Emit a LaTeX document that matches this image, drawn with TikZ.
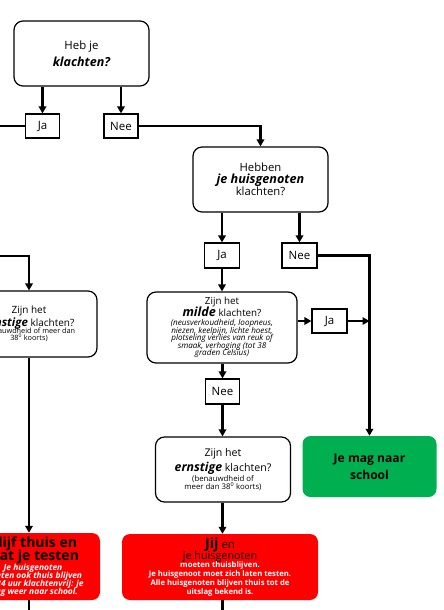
\documentclass[tikz,border=0pt]{standalone}
\usepackage{fontspec}
\setmainfont{Open Sans}
\usetikzlibrary{arrows.meta}
\definecolor{redbox}{RGB}{255,0,0}
\definecolor{greenbox}{RGB}{0,176,80}
\newcommand\fs[2]{\fontsize{#1}{#2}\selectfont}
\newcommand\tightlines{\fontsize{10}{0}\selectfont\lineskiplimit=-100pt\relax}
\tikzset{
  qbox/.style={draw, line width=1.2pt, rounded corners=9pt, inner sep=0pt, align=center,
    minimum width=135pt, minimum height=65pt, font=\tightlines},
  rbox/.style={fill=redbox, rounded corners=8pt, inner sep=0pt, align=center,
    minimum height=66pt, font=\tightlines},
  gbox/.style={fill=greenbox, rounded corners=8pt, inner sep=0pt, align=center,
    minimum width=134pt, minimum height=61pt, font=\tightlines},
  lbl/.style={draw, line width=1.2pt, inner sep=0pt, minimum width=34pt, minimum height=24pt,
    font=\fs{11.5}{13}},
  conn/.style={line width=2.2pt, -{Triangle[width=7.5pt,length=7pt]}},
  wire/.style={line width=2.2pt}
}
\begin{document}
\begin{tikzpicture}[x=1pt,y=-1pt]
\path[use as bounding box, clip] (0,0) rectangle (444,610);

% question boxes
\node[qbox] (q1) at (81.5,53.5)
  {{\fs{11.4}{0}Heb je}\\[17.4pt]{\fs{12.5}{0}\bfseries\itshape klachten?}};
\node[qbox] (q2) at (260.5,179.5)
  {{\fs{11.3}{0}Hebben}\\[12pt]{\fs{12.6}{0}\bfseries\itshape je huisgenoten}\\[12.4pt]{\fs{11.3}{0}klachten?}};
\node[qbox, minimum width=150pt, minimum height=71pt] (q3) at (222,327.5)
  {{\fs{9.8}{0}Zijn het}\\[11.7pt]{\fs{12.6}{0}\bfseries\itshape milde}{\fs{9.8}{0} klachten?}\\[9.3pt]
   {\fs{8.1}{0}\itshape (neusverkoudheid, loopneus,}\\[7.4pt]
   {\fs{8.1}{0}\itshape niezen, keelpijn, lichte hoest,}\\[7.6pt]
   {\fs{8.1}{0}\itshape plotseling verlies van reuk of}\\[7.3pt]
   {\fs{8.1}{0}\itshape smaak, verhoging (tot 38}\\[7.7pt]
   {\fs{8.1}{0}\itshape graden Celsius)}};
\node[qbox] (q4) at (223,469.5)
  {{\fs{10.6}{0}Zijn het}\\[15.4pt]{\fs{12.3}{0}\bfseries\itshape ernstige}{\fs{10.6}{0} klachten?}\\[9.6pt]
   {\fs{7.8}{0}(benauwdheid of}\\[7.7pt]{\fs{7.8}{0}meer dan 38\textsuperscript{0} koorts)}};
\node[qbox, minimum width=136pt, minimum height=66pt] (q5) at (29,324)
  {{\fs{10}{0}Zijn het}\\[12.5pt]{\fs{11.5}{0}\bfseries\itshape ernstige}{\fs{10}{0} klachten?}\\[7.8pt]
   {\fs{7.3}{0}(benauwdheid of meer dan}\\[6.8pt]{\fs{7.3}{0}38\textsuperscript{0} koorts)}};

% outcome boxes
\node[gbox] (green) at (369.5,466.5)
  {{\fs{12.1}{0}\bfseries Je mag naar}\\[16.7pt]{\fs{12.1}{0}\bfseries school}};
\node[rbox, minimum width=196pt] (red2) at (220,567)
  {{\fs{14.3}{0}\bfseries Jij}{\fs{11.4}{0} en}\\[10.5pt]{\fs{10.8}{0}je huisgenoten}\\[8.3pt]
   {\color{white}\fs{7.7}{0}\bfseries moeten thuisblijven.}\\[9pt]
   {\color{white}\fs{7.7}{0}\bfseries Je huisgenoot moet zich laten testen.}\\[9pt]
   {\color{white}\fs{7.7}{0}\bfseries Alle huisgenoten blijven thuis tot de}\\[8.3pt]
   {\color{white}\fs{7.7}{0}\bfseries uitslag bekend is.}};
\node[rbox, minimum width=134pt, minimum height=67pt] (red1) at (33,566.5)
  {{\fs{14}{0}\bfseries Blijf thuis en}\\[13.4pt]{\fs{14}{0}\bfseries laat je testen}\\[10pt]
   {\color{white}\fs{8.4}{0}\bfseries\itshape Je huisgenoten}\\[8.3pt]
   {\color{white}\fs{8.4}{0}\bfseries\itshape moeten ook thuis blijven}\\[7.7pt]
   {\color{white}\fs{8.4}{0}\bfseries\itshape tot 24 uur klachtenvrij: je}\\[8.3pt]
   {\color{white}\fs{8.4}{0}\bfseries\itshape mag weer naar school.}};

% answer labels
\node[lbl] (ja1) at (42.5,126) {Ja};
\node[lbl] (nee1) at (121,126) {Nee};
\node[lbl, minimum width=35pt, minimum height=25pt] (ja2) at (222,255.5) {Ja};
\node[lbl, minimum width=35pt, minimum height=25pt] (nee2) at (299.5,255.5) {Nee};
\node[lbl, minimum width=35pt] (ja3) at (329.5,321) {Ja};
\node[lbl, minimum height=25pt] (nee3) at (222.5,391.5) {Nee};

% free ends
\coordinate (edgeA) at (-5,126);
\coordinate (edgeB) at (-5,256);
\coordinate (bottomC) at (222.5,615);
\coordinate (bottomL) at (29,615);

% connectors
\draw[conn] (q1.south -| ja1.north) -- (ja1.north);
\draw[conn] (q1.south -| nee1.north) -- (nee1.north);
\draw[wire] (ja1.west) -- (edgeA);
\draw[conn] (nee1.east) -| (q2.north);
\draw[conn] (q2.south -| ja2.north) -- (ja2.north);
\draw[conn] (q2.south -| nee2.north) -- (nee2.north);
\draw[conn] (ja2.south) -- (ja2.south |- q3.north);
\draw[conn] (nee2.east) -| (green.north);
\draw[conn] (q3.east |- ja3.west) -- (ja3.west);
\draw[conn] (ja3.east) -- (ja3.east -| green.north);
\draw[conn] (q3.south -| nee3.north) -- (nee3.north);
\draw[conn] (nee3.south) -- (nee3.south |- q4.north);
\draw[conn] (q4.south -| nee3.south) -- (nee3.south |- red2.north);
\draw[wire] (red2.south -| nee3.south) -- (bottomC);
\draw[conn] (edgeB) -| (q5.north);
\draw[conn] (q5.south) -- (q5.south |- red1.north);
\draw[wire] (red1.south -| q5.south) -- (bottomL);
\end{tikzpicture}
\end{document}
